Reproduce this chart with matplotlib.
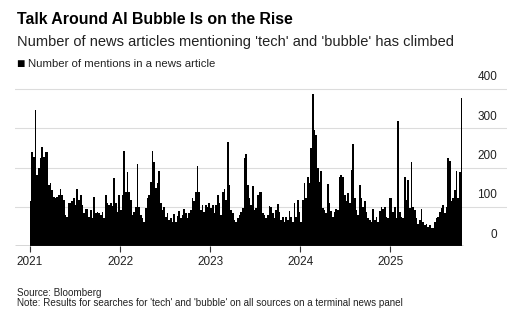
import matplotlib
matplotlib.use("Agg")
import matplotlib.pyplot as plt
import matplotlib.dates as mdates
import pandas as pd

plt.rcParams['font.family'] = ['Liberation Sans', 'DejaVu Sans']

# approx. weekly readings of the daily mention counts
mentions_2021 = [114, 240, 228, 347, 181, 198, 224, 253, 228, 240, 240, 156, 160, 143, 126, 122, 126, 130,
                 146, 130, 118, 80, 75, 109, 109, 114, 122, 105, 146, 118, 130, 105, 84, 95, 95, 75, 92, 71,
                 125, 84, 88, 84, 80, 88, 71, 130, 109, 105, 109, 103, 173, 109, 88, 130]
mentions_2022 = [92, 130, 242, 139, 188, 139, 118, 80, 88, 101, 209, 101, 80, 71, 63, 97, 122, 130,
                 164, 242, 215, 147, 160, 192, 109, 92, 101, 75, 84, 67, 71, 63, 81, 61, 78, 90, 71, 80,
                 95, 84, 71, 84, 92, 122, 114, 139, 204, 139, 92, 105, 88, 105, 101, 109]
mentions_2023 = [97, 105, 84, 105, 130, 109, 80, 139, 146, 118, 264, 156, 92, 84, 67, 63, 71, 80,
                 88, 97, 225, 234, 156, 122, 105, 153, 92, 97, 130, 137, 139, 84, 80, 71, 80, 103, 101, 84,
                 71, 92, 108, 88, 67, 75, 63, 75, 67, 90, 75, 63, 109, 75, 118, 88]
mentions_2024 = [63, 118, 162, 122, 175, 160, 249, 386, 296, 283, 198, 164, 192, 97, 92, 84, 158, 109,
                 90, 75, 86, 95, 92, 177, 181, 177, 130, 114, 135, 109, 194, 259, 122, 92, 80, 156, 122, 101,
                 114, 88, 73, 67, 63, 95, 67, 75, 63, 90, 100, 95, 101, 75, 71, 122]
mentions_2025 = [122, 88, 101, 71, 319, 88, 75, 71, 177, 118, 169, 97, 215, 101, 92, 71, 58, 67,
                 95, 61, 54, 58, 50, 54, 46, 46, 63, 71, 75, 88, 97, 105, 84, 101, 224, 217, 114, 122,
                 142, 192, 122, 188, 376]

mentions = mentions_2021 + mentions_2022 + mentions_2023 + mentions_2024 + mentions_2025
dates = pd.date_range("2021-01-03", "2025-10-17", periods=len(mentions))

years = [2021, 2022, 2023, 2024, 2025]
y_ticks = [0, 100, 200, 300, 400]

fig = plt.figure(figsize=(5.27, 3.22), dpi=100)
ax = fig.add_axes([0.0285, 0.235, 0.934, 0.501])

ax.bar(dates, mentions, width=6.8, color='black', linewidth=0, zorder=2)

x_left = pd.Timestamp("2020-11-01")
x_right = pd.Timestamp("2026-04-20")
ax.set_xlim(x_left, x_right)
ax.set_ylim(0, 410)

for v in y_ticks[1:]:
    ax.axhline(v, color='#dcdcdc', linewidth=0.8, zorder=1)
ax.hlines(0, x_left, dates[-1] + pd.Timedelta(days=4), color='#333333', linewidth=1.0, zorder=3)

for v in y_ticks:
    ax.annotate(str(v), xy=(0.98, v), xycoords=ax.get_yaxis_transform(),
                xytext=(0, 8.3), textcoords='offset points',
                ha='right', va='center', fontsize=8.5, color='#222222')

for s in ax.spines.values():
    s.set_visible(False)
ax.set_yticks([])
ax.set_xticks([pd.Timestamp(f"{y}-01-01") for y in years])
ax.xaxis.set_major_formatter(mdates.DateFormatter('%Y'))
ax.tick_params(axis='x', length=4, width=0.8, color='#333333', labelsize=8.5,
               labelcolor='#222222', pad=3)

fig.text(0.032, 0.938, "Talk Around AI Bubble Is on the Rise", fontsize=11.4,
         fontweight='bold', color='black', va='center')
fig.text(0.032, 0.87, "Number of news articles mentioning 'tech' and 'bubble' has climbed",
         fontsize=10.5, color='#222222', va='center')
fig.text(0.03, 0.802, "\u25a0", fontsize=10, color='black', va='center')
fig.text(0.053, 0.802, "Number of mentions in a news article", fontsize=8.2,
         color='#222222', va='center')
fig.text(0.032, 0.09, "Source: Bloomberg", fontsize=7.1, color='#222222', va='center')
fig.text(0.032, 0.058, "Note: Results for searches for 'tech' and 'bubble' on all sources on a terminal news panel",
         fontsize=7.1, color='#222222', va='center')

fig.savefig("out.png", dpi=100)
